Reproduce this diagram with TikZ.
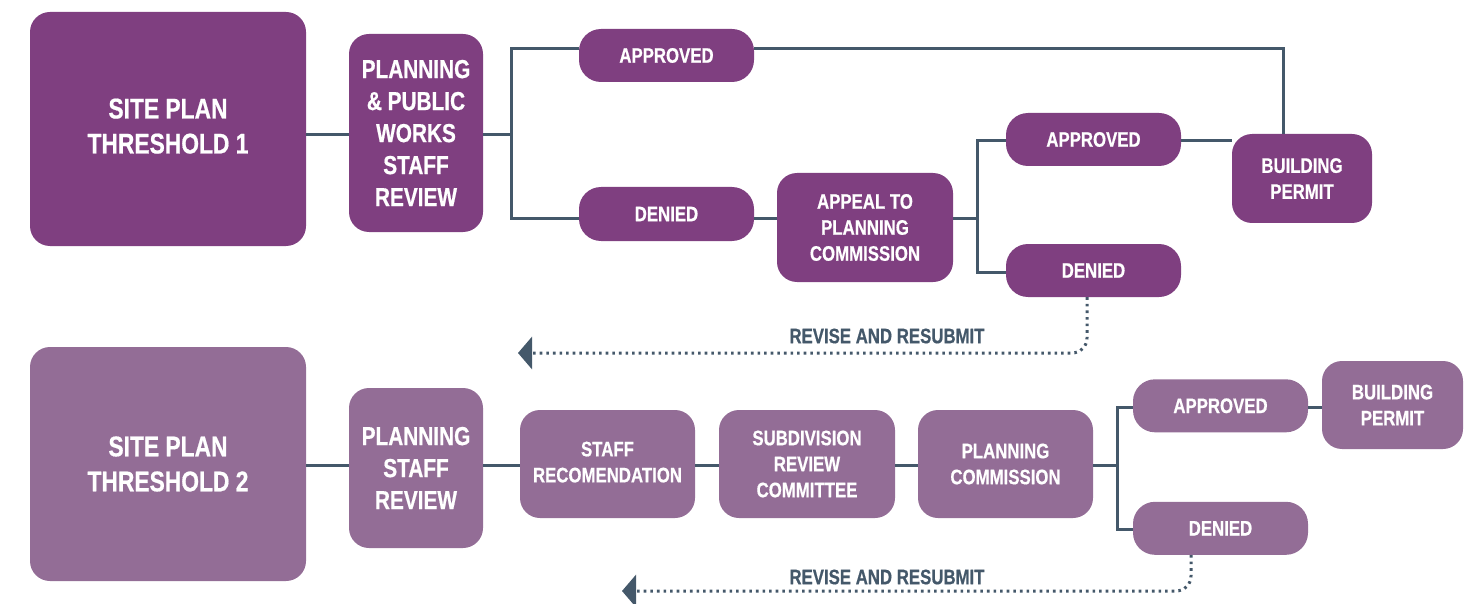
\documentclass[tikz,border=0pt]{standalone}
\usepackage{fontspec}
\setmainfont{Liberation Sans}[FakeStretch=0.8, BoldFeatures={FakeBold=0.6}]
\usetikzlibrary{arrows.meta}
\definecolor{pdark}{RGB}{127,63,128}
\definecolor{plight}{RGB}{147,109,150}
\definecolor{lne}{RGB}{68,88,106}
\begin{document}
\begin{tikzpicture}[x=1pt,y=-1pt,
  box/.style={rectangle, rounded corners=20pt, inner sep=0pt, text=white, align=center,
    font=\bfseries\fontsize{21}{26}\selectfont},
  dk/.style={box, fill=pdark},
  lt/.style={box, fill=plight},
  big/.style={font=\bfseries\fontsize{28.5}{35}\selectfont},
  mid/.style={font=\bfseries\fontsize{26}{32}\selectfont},
  pill/.style={minimum width=175pt, minimum height=53pt, rounded corners=22pt},
  conn/.style={draw=lne, line width=3pt},
  back/.style={draw=lne, line width=3pt, dash pattern=on 2.6pt off 4pt,
    rounded corners=15pt, -{Triangle[width=32pt,length=14pt]}},
  lbl/.style={text=lne, inner sep=0pt, font=\bfseries\fontsize{21}{26}\selectfont}]
\useasboundingbox (0,0) rectangle (1480,604);

% ---------- Threshold 1 ----------
\node[dk, big, minimum width=276pt, minimum height=234pt] (sp1) at (168,129) {SITE PLAN\\THRESHOLD 1\rule[-6pt]{0pt}{0pt}};
\node[dk, mid, minimum width=134pt, minimum height=198pt] (ppw) at (416,133) {PLANNING\\\& PUBLIC\\WORKS\\STAFF\\REVIEW};
\node[dk, pill] (ap1) at (666.5,55.5) {APPROVED};
\node[dk, pill, minimum height=54pt] (dn1) at (666.5,214) {DENIED};
\node[dk, minimum width=176pt, minimum height=109pt] (apl) at (865,227.5) {APPEAL TO\\PLANNING\\COMMISSION};
\node[dk, pill] (ap2) at (1093.5,139.5) {APPROVED};
\node[dk, pill] (dn2) at (1093.5,270.5) {DENIED};
\node[dk, minimum width=140pt, minimum height=89pt] (bp1) at (1302,178.5) {\rule{0pt}{4pt}BUILDING\\PERMIT};

\coordinate (b1) at (511,135);
\coordinate (b1t) at (511,49);
\coordinate (b1b) at (511,219);
\coordinate (c1) at (1283,49);
\coordinate (b2) at (977,219);
\coordinate (b2t) at (977,141);
\coordinate (b2b) at (977,272);

\draw[conn] (sp1.east |- b1) -- (ppw.west |- b1);
\draw[conn] (ppw.east |- b1) -- (b1);
\draw[conn] (ap1.west |- b1t) -- (b1t) -- (b1b) -- (dn1.west |- b1b);
\draw[conn] (ap1.east |- c1) -- (c1) -- (c1 |- bp1.north);
\draw[conn] (dn1.east |- b1b) -- (apl.west |- b1b);
\draw[conn] (apl.east |- b2) -- (b2);
\draw[conn] (ap2.west |- b2t) -- (b2t) -- (b2b) -- (dn2.west |- b2b);
\draw[conn] (ap2.east |- b2t) -- (bp1.west |- b2t);

\coordinate (d1) at (1087,297);
\coordinate (t1) at (518,353);
\draw[back] (dn2.south -| d1) -- (d1 |- t1) -- (t1);
\node[lbl] (rv1) at (887,336) {REVISE AND RESUBMIT};

% ---------- Threshold 2 ----------
\node[lt, big, minimum width=276pt, minimum height=234pt] (sp2) at (168,464) {SITE PLAN\\THRESHOLD 2};
\node[lt, mid, minimum width=134pt, minimum height=160pt] (psr) at (416,468) {PLANNING\\STAFF\\REVIEW};
\node[lt, minimum width=175pt, minimum height=108pt] (sr) at (607.5,464) {STAFF\\RECOMENDATION\rule[-4pt]{0pt}{0pt}};
\node[lt, minimum width=176pt, minimum height=108pt] (src) at (807,464) {SUBDIVISION\\REVIEW\\COMMITTEE};
\node[lt, minimum width=175pt, minimum height=108pt] (pc) at (1005.5,464) {PLANNING\\COMMISSION};
\node[lt, pill] (ap3) at (1220.5,405.8) {APPROVED};
\node[lt, pill] (dn3) at (1220.5,528.3) {DENIED};
\node[lt, minimum width=141pt, minimum height=88pt] (bp2) at (1392.5,405) {BUILDING\\PERMIT};

\coordinate (r2) at (0,465);
\coordinate (b3) at (1117,465);
\coordinate (b3t) at (1117,407);
\coordinate (b3b) at (1117,529);

\draw[conn] (sp2.east |- r2) -- (psr.west |- r2);
\draw[conn] (psr.east |- r2) -- (sr.west |- r2);
\draw[conn] (sr.east |- r2) -- (src.west |- r2);
\draw[conn] (src.east |- r2) -- (pc.west |- r2);
\draw[conn] (pc.east |- r2) -- (b3);
\draw[conn] (ap3.west |- b3t) -- (b3t) -- (b3b) -- (dn3.west |- b3b);
\draw[conn] (ap3.east |- b3t) -- (bp2.west |- b3t);

\coordinate (d2) at (1191,555);
\coordinate (t2) at (622,591);
\draw[back] (dn3.south -| d2) -- (d2 |- t2) -- (t2);
\node[lbl] (rv2) at (887,577) {REVISE AND RESUBMIT};
\end{tikzpicture}
\end{document}
